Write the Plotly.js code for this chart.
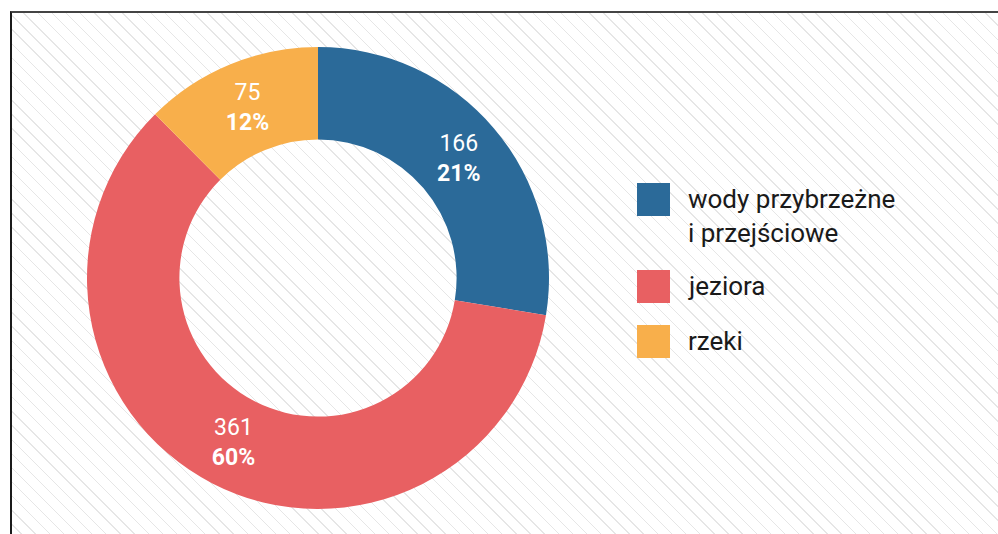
<!DOCTYPE html>
<html>
<head>
<meta charset="utf-8">
<script src="https://cdn.plot.ly/plotly-3.0.1.min.js"></script>
<style>
html,body{margin:0;padding:0;background:#fff;width:998px;height:534px;overflow:hidden;}
#frame{position:absolute;left:10px;top:11px;width:990px;height:525px;
  border-left:2px solid #1a1a1a;border-top:2px solid #444;
  background:repeating-linear-gradient(45deg,rgba(0,0,0,0) 0px,rgba(0,0,0,0) 9px,#e6e6e6 9px,#e6e6e6 10px);}
#chart{position:absolute;left:0;top:0;width:998px;height:534px;}
</style>
</head>
<body>
<div id="frame"></div>
<div id="chart"></div>
<script>
// Data
const categories = ['wody przybrzeżne<br>i przejściowe', 'jeziora', 'rzeki'];
const values = [166, 361, 75];
const pctLabels = ['21%', '60%', '12%'];
const colors = ['#2b6a99', '#e86062', '#f8af4b'];

const W = 998, H = 534;
const px = x => x / W;
const py = y => 1 - y / H;

const trace = {
  type: 'pie',
  labels: categories,
  values: values,
  customdata: pctLabels,
  texttemplate: '%{value}<br><b>%{customdata}</b>',
  textposition: 'inside',
  insidetextorientation: 'horizontal',
  textfont: {family: 'Roboto, sans-serif', size: 23, color: '#ffffff'},
  marker: {colors: colors, line: {width: 0}},
  hole: 0.6,
  sort: false,
  direction: 'clockwise',
  rotation: 0,
  showlegend: false,
  hoverinfo: 'none',
  domain: {x: [px(87), px(549)], y: [py(509), py(47)]}
};

// Custom legend (large square swatches)
const swatchTops = [183, 270, 325];
const shapes = [];
const annotations = [];
categories.forEach((c, i) => {
  const t = swatchTops[i];
  shapes.push({type: 'rect', xref: 'paper', yref: 'paper',
    x0: px(637), x1: px(670), y0: py(t + 33), y1: py(t),
    fillcolor: colors[i], line: {width: 0}});
  annotations.push({xref: 'paper', yref: 'paper', x: px(686), y: py(t - 1),
    xanchor: 'left', yanchor: 'top', align: 'left', showarrow: false,
    text: c, font: {family: 'Roboto, sans-serif', size: 26, color: '#1a1a1a'}});
});

const layout = {
  width: W, height: H,
  margin: {l: 0, r: 0, t: 0, b: 0},
  paper_bgcolor: 'rgba(0,0,0,0)',
  plot_bgcolor: 'rgba(0,0,0,0)',
  showlegend: false,
  shapes: shapes,
  annotations: annotations
};

Plotly.newPlot('chart', [trace], layout, {displayModeBar: false, staticPlot: true});
</script>
</body>
</html>
